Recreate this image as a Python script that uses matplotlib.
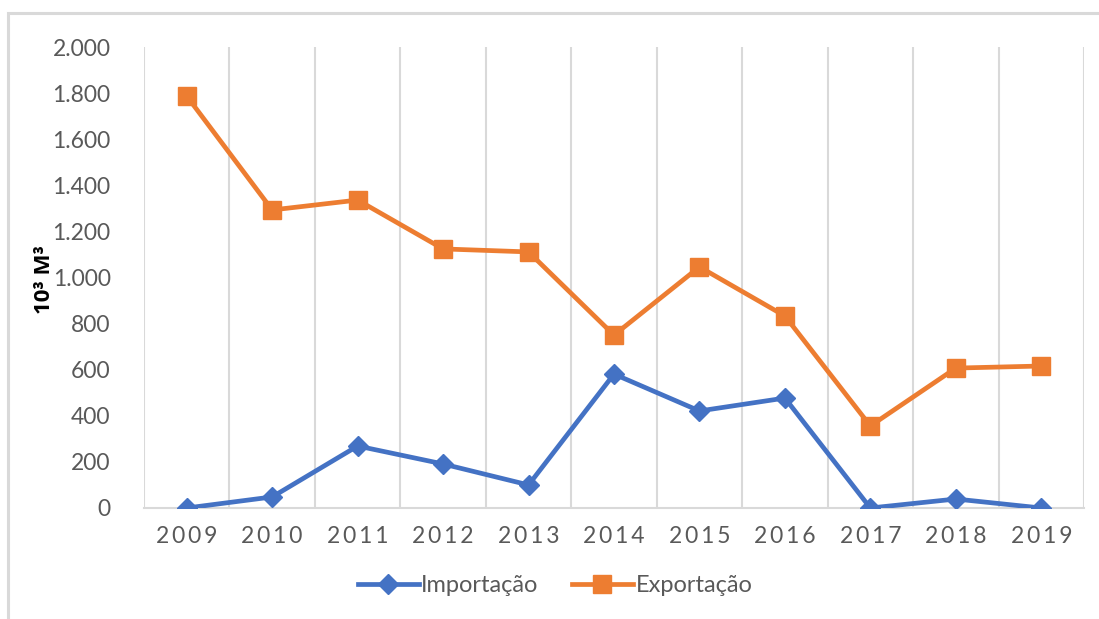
import matplotlib
matplotlib.use("Agg")
import matplotlib.pyplot as plt
from matplotlib.patches import Rectangle
from matplotlib.lines import Line2D

years = ["2009", "2010", "2011", "2012", "2013", "2014", "2015", "2016", "2017", "2018", "2019"]
importacao = [0, 48, 269, 191, 100, 581, 421, 477, 0, 39, 0]
exportacao = [1787, 1293, 1336, 1124, 1111, 750, 1046, 833, 356, 607, 616]
yticks = [0, 200, 400, 600, 800, 1000, 1200, 1400, 1600, 1800, 2000]
ytick_labels = ["0", "200", "400", "600", "800", "1.000", "1.200", "1.400", "1.600", "1.800", "2.000"]

BLUE = "#4472C4"
ORANGE = "#ED7D31"
GRID = "#D9D9D9"
TXT = "#595959"
FONT = ["Lato", "DejaVu Sans"]
plt.rcParams["font.family"] = FONT

fig = plt.figure(figsize=(10.99, 6.19), dpi=100)
fig.patches.append(Rectangle((8/1099, -0.1), 1.2, 1 - 13/619 + 0.1, transform=fig.transFigure,
                             fill=False, edgecolor=GRID, linewidth=2.2))
ax = fig.add_axes([144/1099, 1 - 508/619, (1084 - 144)/1099, (508 - 47)/619])

x = list(range(len(years)))
ax.plot(x, importacao, color=BLUE, lw=3.4, marker="D", ms=10, label="Importação", zorder=3,
        solid_joinstyle="round")
ax.plot(x, exportacao, color=ORANGE, lw=3.4, marker="s", ms=13.5, label="Exportação", zorder=3,
        solid_joinstyle="round")

ax.set_xlim(-0.5, len(years) - 0.5)
ax.set_ylim(0, 2000)
ax.set_yticks(yticks)
ax.set_yticklabels(ytick_labels, fontsize=16.5, color=TXT)
ax.set_xticks(x)
ax.set_xticklabels(["\u2009".join(y) for y in years], fontsize=16.5, color=TXT)
ax.tick_params(axis="both", length=0)
ax.tick_params(axis="x", pad=13)
ax.tick_params(axis="y", pad=24)
ax.set_xticks([i - 0.5 for i in range(len(years) + 1)], minor=True)
ax.tick_params(axis="x", which="minor", length=0)
ax.grid(True, axis="x", which="minor", color=GRID, lw=1.5)
ax.grid(False, axis="x", which="major")
ax.grid(False, axis="y")
for s in ["top", "right", "left"]:
    ax.spines[s].set_visible(False)
ax.spines["bottom"].set_color(GRID)
ax.spines["bottom"].set_linewidth(1.5)

fig.text(45/1099, 1 - 280/619, "10³ M³", rotation=90, fontsize=16, fontweight="bold",
         color="black", ha="center", va="center", family=["Open Sans", "DejaVu Sans"])

handles = [Line2D([], [], color=BLUE, lw=3.4, marker="D", ms=10),
           Line2D([], [], color=ORANGE, lw=3.4, marker="s", ms=13.5)]
fig.legend(handles, ["Importação", "Exportação"], loc="center", bbox_to_anchor=(555/1099, 1 - 586/619),
           ncol=2, frameon=False, fontsize=17, labelcolor=TXT, handlelength=2.6,
           handletextpad=0.1, columnspacing=1.4)

fig.savefig("out.png", dpi=100)
